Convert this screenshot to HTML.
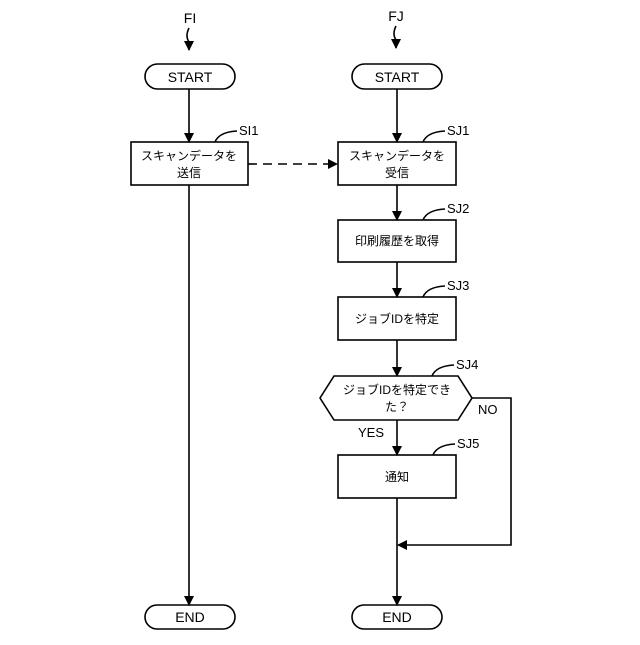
<!DOCTYPE html>
<html><head><meta charset="utf-8"><style>body{margin:0;background:#fff}</style></head><body>
<svg width="640" height="640" xmlns="http://www.w3.org/2000/svg" font-family="Liberation Sans, Noto Sans CJK JP, sans-serif" font-size="12" fill="none" stroke="#000" stroke-width="1.6">
<defs><marker id="a" markerWidth="10" markerHeight="10" refX="9" refY="5" orient="auto" markerUnits="userSpaceOnUse"><path d="M0,0 L10,5 L0,10 z" fill="#000" stroke="none"/></marker></defs>
<g fill="#000" stroke="none" font-size="14">
<text x="190" y="23" text-anchor="middle">FI</text>
<text x="396" y="21" text-anchor="middle">FJ</text>
</g>
<path d="M189,28 q-4,8 0,14 v8" marker-end="url(#a)"/>
<path d="M396,26 q-4,8 0,14 v8" marker-end="url(#a)"/>
<rect x="145" y="64" width="90" height="25" rx="12.5"/>
<rect x="352" y="64" width="90" height="25" rx="12.5"/>
<rect x="145" y="605" width="90" height="24" rx="12"/>
<rect x="352" y="605" width="90" height="24" rx="12"/>
<rect x="131" y="142" width="117" height="43"/>
<rect x="338" y="142" width="118" height="43"/>
<rect x="338" y="220" width="118" height="42"/>
<rect x="338" y="297" width="118" height="43"/>
<path d="M320,398 L334,376 L458,376 L472,398 L458,420 L334,420 Z"/>
<rect x="338" y="455" width="118" height="43"/>
<path d="M189,89 V142" marker-end="url(#a)"/>
<path d="M189,185 V605" marker-end="url(#a)"/>
<path d="M397,89 V142" marker-end="url(#a)"/>
<path d="M397,185 V220" marker-end="url(#a)"/>
<path d="M397,262 V297" marker-end="url(#a)"/>
<path d="M397,340 V376" marker-end="url(#a)"/>
<path d="M397,420 V455" marker-end="url(#a)"/>
<path d="M397,498 V605" marker-end="url(#a)"/>
<path d="M472,398 H511 V545 H398" marker-end="url(#a)"/>
<path d="M248,164 H337" stroke-dasharray="9,6" marker-end="url(#a)"/>
<path d="M215,142 q4,-10 22,-11"/>
<path d="M423,142 q4,-10 22,-11"/>
<path d="M423,220 q4,-10 22,-11"/>
<path d="M423,297 q4,-10 22,-11"/>
<path d="M432,376 q4,-10 22,-11"/>
<path d="M433,455 q4,-10 22,-11"/>
<g fill="#000" stroke="none">
<text x="190" y="82" text-anchor="middle" font-size="14">START</text>
<text x="397" y="82" text-anchor="middle" font-size="14">START</text>
<text x="190" y="622" text-anchor="middle" font-size="14">END</text>
<text x="397" y="622" text-anchor="middle" font-size="14">END</text>
<text x="239" y="135" font-size="13">SI1</text>
<text x="447" y="135" font-size="13">SJ1</text>
<text x="447" y="213" font-size="13">SJ2</text>
<text x="447" y="290" font-size="13">SJ3</text>
<text x="456" y="369" font-size="13">SJ4</text>
<text x="457" y="448" font-size="13">SJ5</text>
<text x="189" y="160" text-anchor="middle">スキャンデータを</text>
<text x="189" y="177" text-anchor="middle">送信</text>
<text x="397" y="160" text-anchor="middle">スキャンデータを</text>
<text x="397" y="177" text-anchor="middle">受信</text>
<text x="397" y="245" text-anchor="middle">印刷履歴を取得</text>
<text x="397" y="323" text-anchor="middle">ジョブIDを特定</text>
<text x="397" y="394" text-anchor="middle">ジョブIDを特定でき</text>
<text x="397" y="411" text-anchor="middle">た？</text>
<text x="397" y="481" text-anchor="middle">通知</text>
<text x="358" y="437" font-size="13">YES</text>
<text x="478" y="414" font-size="13">NO</text>
</g>
</svg>
</body></html>
